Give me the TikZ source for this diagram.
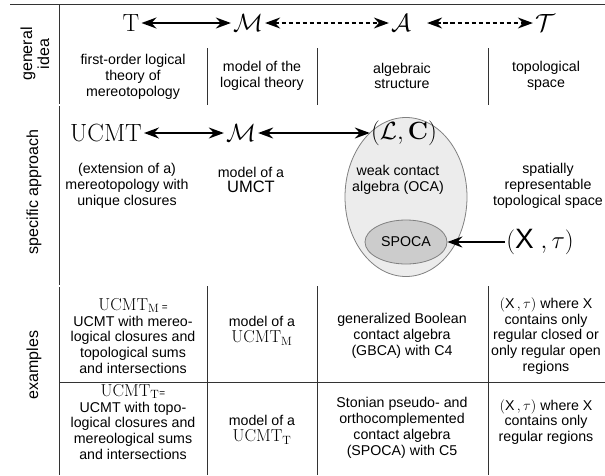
\documentclass[tikz,border=0pt]{standalone}
\usepackage[no-math]{fontspec}
\setmainfont{Liberation Sans}
\usetikzlibrary{arrows.meta,shapes.geometric}
\begin{document}
\begin{tikzpicture}[x=1pt,y=-1pt,
  rule/.style={draw=black!80,line width=.8pt},
  dbl/.style={draw=black!75,double=white,double distance=1.6pt,line width=.6pt},
  txt/.style={align=center,font=\fontsize{14.2}{15.8}\selectfont,inner sep=0pt},
  big/.style={font=\fontsize{25}{28}\selectfont,inner sep=2pt},
  huge/.style={font=\fontsize{28}{30}\selectfont,inner sep=1pt},
  hd/.style={rotate=90,align=center,font=\fontsize{16}{17}\selectfont},
  link/.style={line width=1.9pt,{Stealth[length=15pt,width=11pt,inset=5pt]}-{Stealth[length=15pt,width=11pt,inset=5pt]}},
  dlink/.style={link,line width=1.5pt,dash pattern=on 4.5pt off 2.5pt},
  arr/.style={line width=1.9pt,-{Stealth[length=15pt,width=11pt,inset=5pt]}}]
\useasboundingbox (0,0) rectangle (605,475);
\draw[rule] (10,4) -- (605,4);
\draw[rule] (59,4) -- (59,475);
\draw[dbl] (10,105) -- (605,105);
\draw[dbl] (10,286) -- (605,286);
\draw[rule] (59,382) -- (605,382);
\foreach \x in {207,317,488} {
  \draw[rule] (\x,48) -- (\x,105);
  \draw[rule] (\x,286) -- (\x,475);
}
\node[hd] (gi) at (35,54) {general\\idea};
\node[hd] (sa) at (34,192) {specific approach};
\node[hd] (exs) at (34,365) {examples};
\node[big] (T) at (131,23) {$\mathrm{T}$};
\node[big] (M) at (248,23) {$\mathcal{M}$};
\node[big] (A) at (401,23) {$\mathcal{A}$};
\node[big] (Tau) at (545,23) {$\mathcal{T}$};
\draw[link] (T) -- (M);
\draw[dlink] (M) -- (A);
\draw[dlink,shorten <=14pt] (A) -- (Tau);
\node[txt] (thy) at (133,77) {first-order logical\\theory of\\mereotopology};
\node[txt] (mod) at (262,76) {model of the\\logical theory};
\node[txt] (alg) at (402,76) {algebraic\\structure};
\node[txt] (topo) at (546,76) {topological\\space};
\node[ellipse,draw=gray,fill=gray!15,line width=.8pt,minimum width=122pt,minimum height=159pt] (oca) at (406,197) {};
\node[big] (U) at (106,133) {$\mathrm{UCMT}$};
\node[big] (M2) at (241,133) {$\mathcal{M}$};
\node[huge] (LC) at (404,133) {$(\mathcal{L},\mathbf{C})$};
\draw[link] (U) -- (M2);
\draw[link] (M2) -- (LC);
\node[txt] (ext) at (127,186) {(extension of a)\\mereotopology with\\unique closures};
\node[txt] (mod2) at (251,180) {model of a\\{\fontsize{16.5}{19}\selectfont UMCT}};
\node[txt] (wca) at (398,180) {weak contact\\algebra (OCA)};
\node[txt] (srt) at (548,186) {spatially\\representable\\topological space};
\node[ellipse,draw=gray,fill=gray!40,line width=.8pt,minimum width=82pt,minimum height=44pt,font=\fontsize{14.2}{15.8}\selectfont] (spoca) at (406,242) {SPOCA};
\node[huge] (Xt) at (540,242) {$(\textrm{X}\;,\tau)$};
\draw[arr] (Xt) -- (spoca);
\node[txt] (ex1) at (133,336) {{\fontsize{18}{19}\selectfont$\mathrm{UCMT_M}$}\,{\fontsize{10}{10}\selectfont=}\\UCMT with mereo-\\logical closures and\\topological sums\\and intersections};
\node[txt] (mod3) at (262,331) {model of a\\{\fontsize{18}{20}\selectfont$\mathrm{UCMT_M}$}};
\node[txt] (gbca) at (402,336) {generalized Boolean\\contact algebra\\(GBCA) with C4};
\node[txt] (rc) at (546,336) {$(\textrm{X}\,,\tau)$ where X\\contains only\\regular closed or\\only regular open\\regions};
\node[txt] (ex2) at (133,422) {{\fontsize{18}{19}\selectfont$\mathrm{UCMT_T}$}{\fontsize{10}{10}\selectfont=}\\UCMT with topo-\\logical closures and\\mereological sums\\and intersections};
\node[txt] (mod4) at (262,430) {model of a\\{\fontsize{18}{20}\selectfont$\mathrm{UCMT_T}$}};
\node[txt] (spc) at (402,428) {Stonian pseudo- and\\orthocomplemented\\contact algebra\\(SPOCA) with C5};
\node[txt] (rr) at (546,422) {$(\textrm{X}\,,\tau)$ where X\\contains only\\regular regions};
\end{tikzpicture}
\end{document}
